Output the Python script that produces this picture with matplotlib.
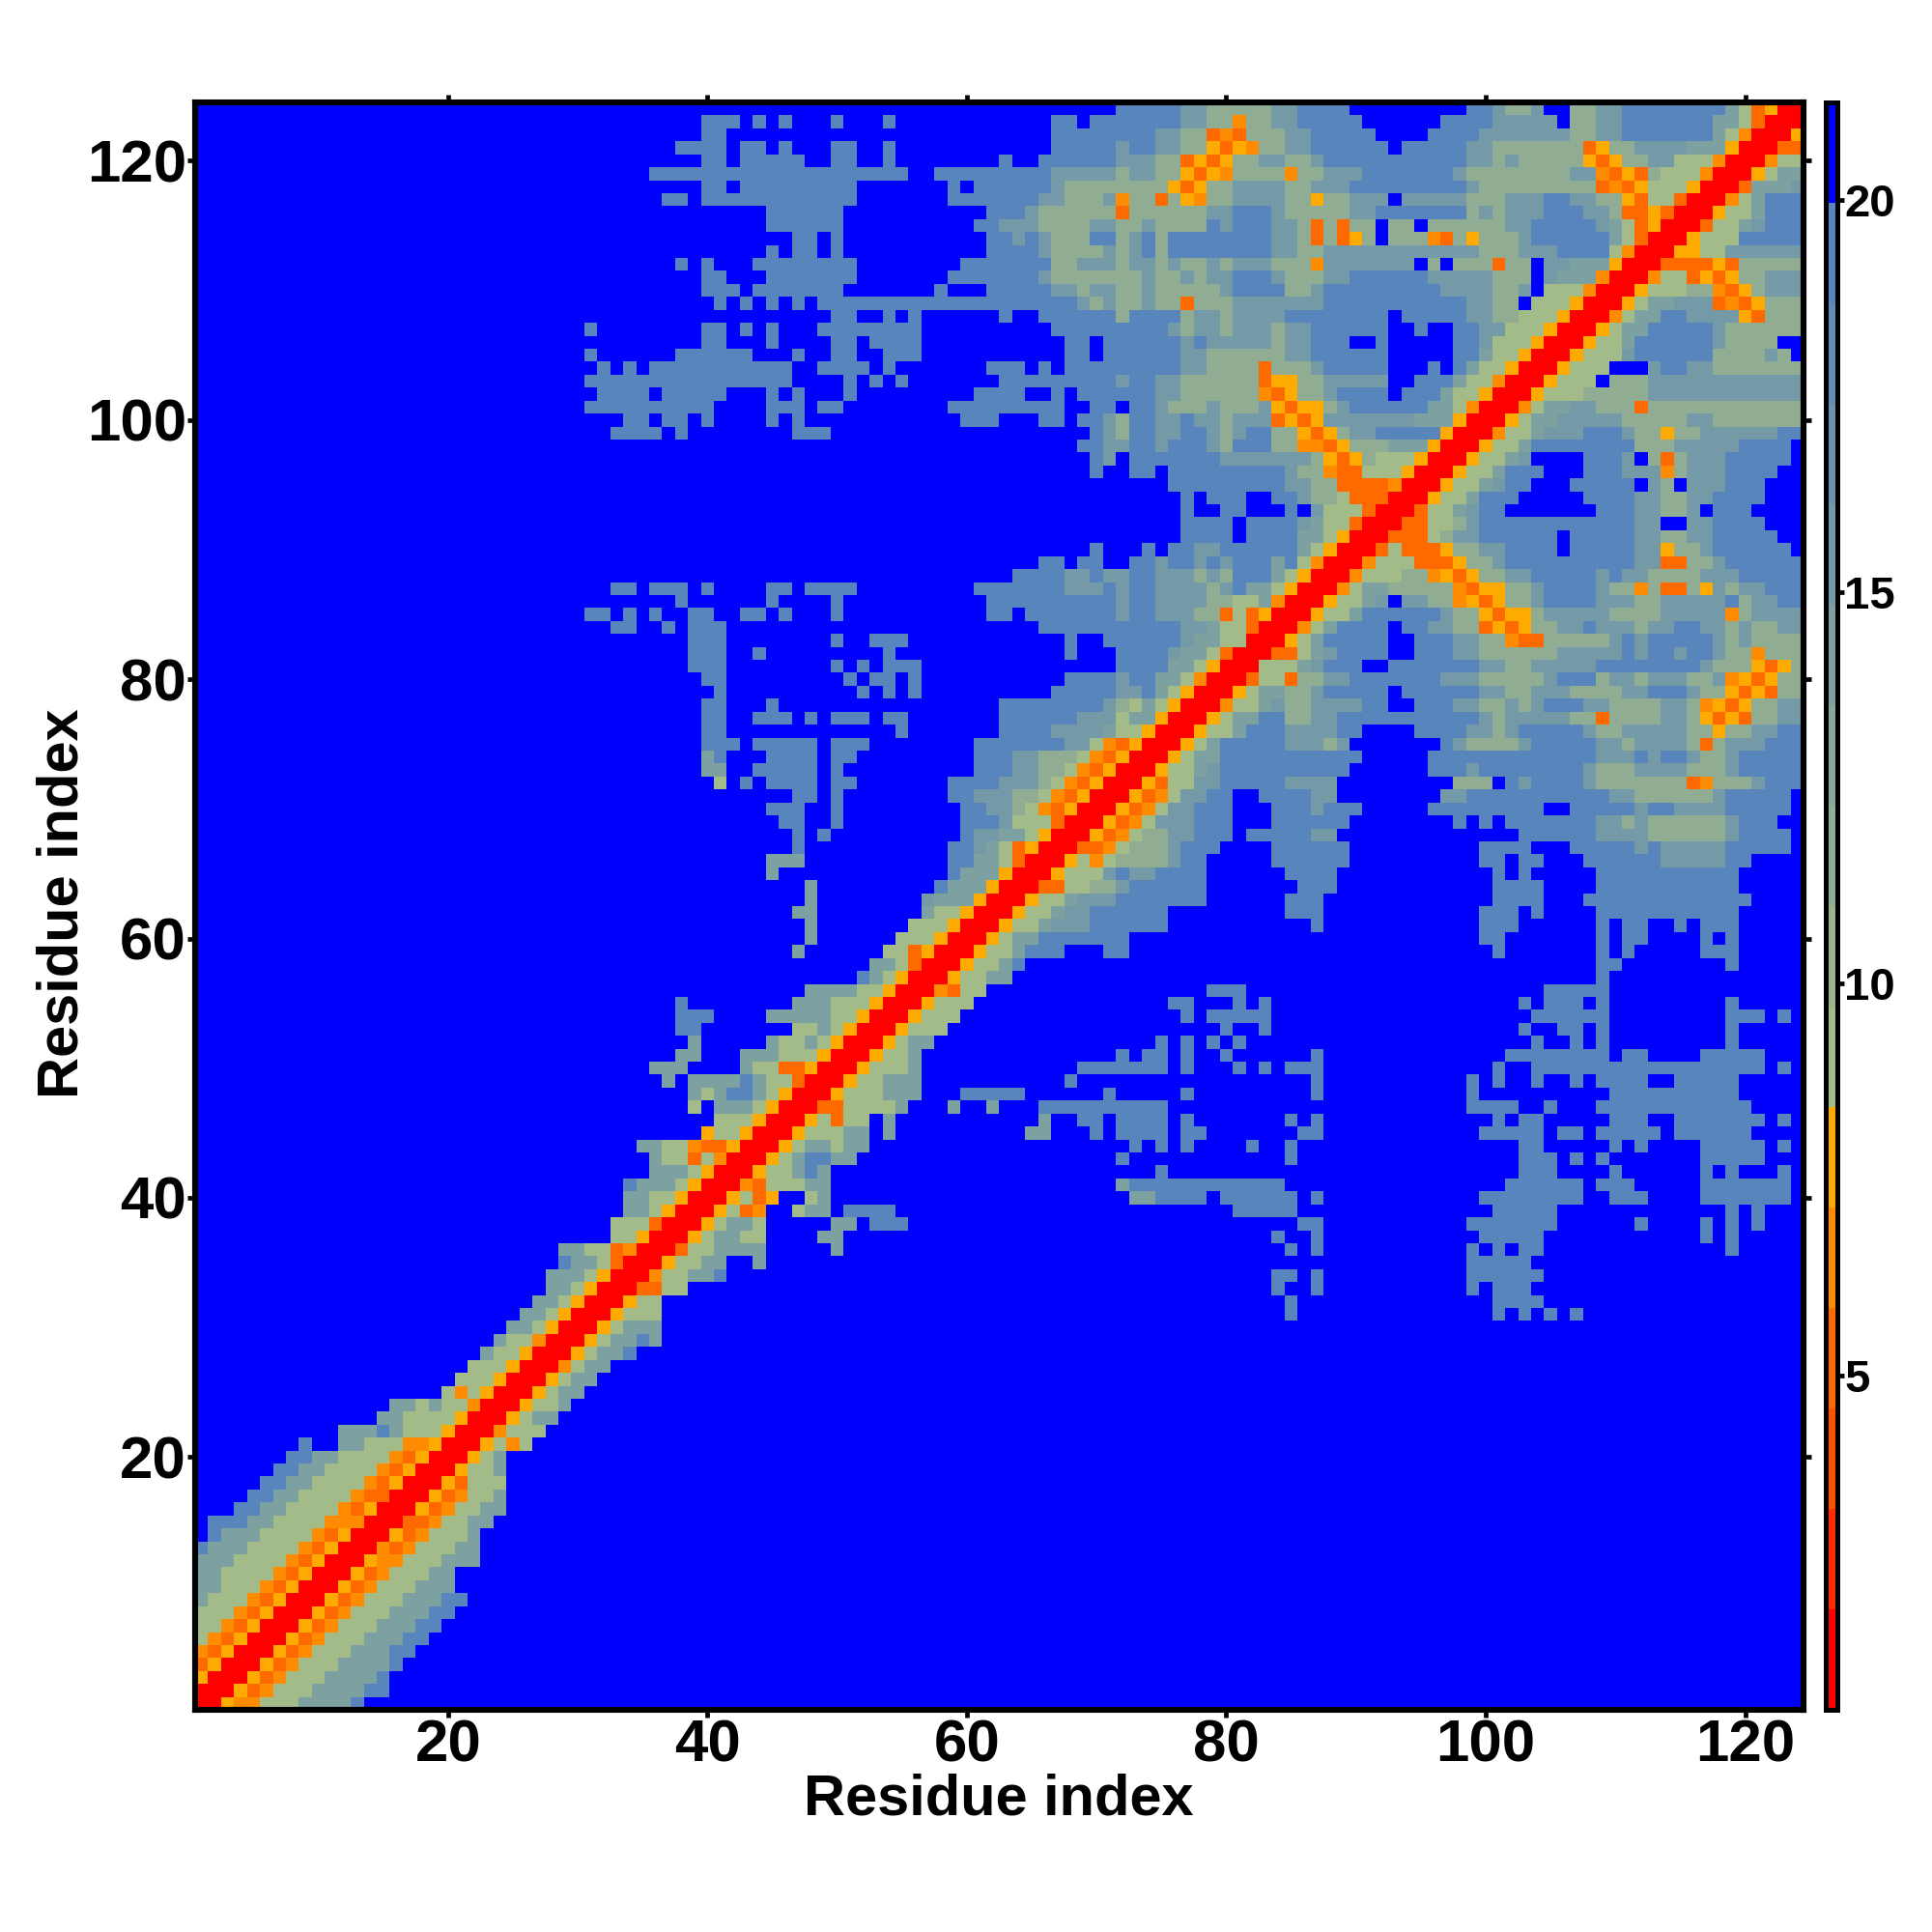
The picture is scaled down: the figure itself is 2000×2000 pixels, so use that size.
import numpy as np
import matplotlib
matplotlib.use("Agg")
import matplotlib.pyplot as plt
from matplotlib.colors import ListedColormap, BoundaryNorm, to_rgb
from matplotlib.cm import ScalarMappable

plt.rcParams['font.family'] = ['Liberation Sans', 'DejaVu Sans']
plt.rcParams['font.weight'] = 'bold'

# distance read for each colour code (r=red ... b=blue)
code_values = {'r': 1.4, 'o': 5.2, 'n': 6.5, 'a': 7.8, 'g': 9.1, 'm': 14.2, 's': 19.4, 'b': 20.7}
# the same codes read paler in the upper right block, away from the diagonal
upper_block_g = 11.6
upper_block_m = 15.2
n_residues = 124

# one entry per row, top row (124) first; "72s" = from column 72 on the value is s, blue before the first entry
rows_top_down = [
"72s 77m 79g 84m 86s 90b 99s 101m 102g 104m 105b 107g 109m 111s 119m 120g 121o 122a 123r",
"40s 43b 44s 45b 46s 47b 50s 51b 54s 55b 67s 69b 70s 77m 79g 81n 82g 84m 86s 91b 97s 101m 106b 107g 109m 111s 118m 120g 121o 122r",
"40s 42b 67s 75m 77g 79o 80n 81o 82g 85m 87s 92b 96s 100m 107g 109m 111s 118m 119g 120n 121r 124a",
"38s 42b 43s 45b 46s 47b 50s 52b 54s 55b 67s 72m 73s 75m 77g 79a 80o 81a 82n 83g 85m 87s 93b 94s 99m 101g 108o 109a 110g 112m 119a 120r 123o",
"40s 42b 43s 48b 50s 52b 54s 55b 63s 64b 66s 72m 75g 77o 78a 79o 80a 81g 83m 85g 87m 88s 99m 101g 102m 103g 108a 109o 110a 111g 113m 115g 118n 119r 122n 123g",
"36s 56b 58s 67m 72g 73m 75g 77a 78o 79a 80n 81g 85n 86g 88m 91s 98m 99g 107m 109n 110o 111a 112o 113g 117n 118r 121a 122g 123m",
"40s 42b 43s 52b 59s 60b 61s 67m 68g 72g 76a 77o 78a 79g 81m 85g 87m 90s 99m 100g 109o 110n 111o 112a 113g 116a 117r 120o 121m",
"37s 39b 40s 52b 59s 66m 68g 71m 72n 73g 75o 76g 77a 78n 79g 81m 85g 87a 88g 90m 93b 94m 99g 102m 105s 107m 109g 111a 112o 113g 115o 116r 119n 120g 121m 122s",
"45s 51b 62s 65m 66g 72o 73g 79m 81s 84m 85g 90m 92s 99g 100m 101g 102m 105s 108m 110g 111o 113a 114o 115r 118a 119g 121m 122s",
"45s 51b 61s 63m 66g 70m 72g 74m 75g 79s 80m 81s 84m 86g 87o 88g 89o 90g 92b 93g 95b 96g 102m 104s 109m 111g 112o 113a 114r 117o 118g 120m 122s",
"47s 49b 50s 51b 62s 64m 65s 66m 67g 70s 72g 73m 74s 75g 76s 84m 86g 87o 88g 89o 90a 91g 92b 93g 96n 97o 98g 99a 100g 103m 104s 110m 111g 112o 113r 116a 117g 120s",
"45s 46b 47s 49b 50s 51b 62s 66m 67g 71m 72g 73m 74s 75g 76s 84m 86g 88m 93m 100g 103m 106s 110g 111n 112r 115a 117g 119m",
"38s 39b 40s 41b 44s 52b 60s 67g 69m 72g 73m 75g 76m 77g 79m 80g 81m 84g 87n 88m 95b 96g 97b 98g 101o 102g 104b 105m 110a 111r 114o 118a 119o 120g",
"40s 42b 45s 52b 59s 66m 67g 72g 74m 75g 77m 78g 79m 81s 84m 85g 88m 90s 96m 101g 104b 105m 109n 110r 113n 114g 116o 117a 118o 119a 120g 122m",
"40s 43b 44s 51b 58s 59b 62s 67m 69g 70m 72g 74m 75g 80m 81s 85g 87m 88s 97m 101g 103m 104b 105g 108n 109r 112a 113g 118n 119o 120a 121g 122m",
"41s 42b 43s 44b 45s 46b 47s 48b 49s 69m 70g 71m 72g 74m 75g 77o 78g 81m 88s 99m 101g 103b 104g 107a 108r 111a 112g 113m 118o 119n 120o 121a 122g",
"50s 52b 54s 55b 56s 57b 63s 64b 66s 72g 73s 77g 78m 80g 81m 85s 93b 94s 99m 101g 106a 107r 110n 111g 112m 114s 116m 120a 121o 122g",
"31s 32b 40s 42b 43s 44b 45s 46b 49s 57b 67s 76m 77g 78m 80g 81m 84g 85m 87s 93b 95s 96b 98s 100m 102g 105a 106r 109a 110g 111m 113s 118m 119g",
"40s 42b 45s 46b 50s 52b 53s 57b 68s 70b 71s 77m 78s 79m 84g 85m 87s 90b 92s 93b 98s 100m 101g 104a 105r 108a 109g 111m 112s 118m 119g 123b",
"31s 32b 38s 44b 47s 48b 50s 52b 54s 57b 68s 70b 71s 77m 79g 85m 87s 93b 98s 100m 101g 103a 104r 107a 108g 111m 112s 118g 122m 123g 124b",
"32s 33b 34s 35b 36s 47b 49s 53b 54s 55b 62s 65b 66s 67b 68s 77m 79g 83o 84g 87m 88s 93b 96s 97b 98s 99m 100g 102a 103r 106a 107g 110b 113m 114s 116m 118g",
"31s 47b 51s 52b 53s 54b 55s 56b 63s 72m 73s 75m 77g 83o 84a 86g 88m 93b 95s 98m 99g 101n 102r 105a 106g 109b 110g 113m",
"32s 36b 37s 42b 45s 46b 47s 48b 51s 52b 61s 65b 67s 68b 69s 75m 77g 83n 84o 85a 86g 88m 89s 93b 94s 97m 98g 100a 101r 104a 105g 113m",
"31s 41b 45s 48b 49s 51b 59s 68b 70s 72b 73s 75m 76g 79m 80g 83m 84a 85o 86a 88g 89m 90s 96m 98g 99n 100r 103n 104g 105m 109g 112o 113g",
"34s 36b 37s 39b 40s 41b 45s 46b 47s 48b 60s 63b 66s 68b 69s 71m 72g 73s 75m 77s 78m 80g 81m 84o 85a 86o 87a 88m 94m 98a 99r 102a 103g 104m 111g 116m 118g",
"33s 37b 38s 39b 47s 50b 70s 71m 72g 73s 75m 77s 79m 80g 81m 82s 84g 86a 87o 88a 89g 90m 92s 97a 98r 101n 102g 104m 108s 111m 112g 114a 115g 117m 122m 123s",
"69s 71m 73s 75m 76s 79m 80g 81s 84g 86n 88o 89a 90g 93m 96a 97r 100a 101g 103m 104s 112g 115m 120s 124b",
"70s 71m 72b 73s 80m 84m 87g 88a 89o 90a 91g 95a 96r 99a 100g 102m 104b 108s 111m 112b 113g 114o 115g 116m 119s 124b",
"70s 71b 73s 75b 76s 85m 86g 88n 89o 91g 94a 95r 98a 99g 101m 102s 105b 108s 111m 114n 115g 116m 119s 123b",
"76s 85m 87g 89o 93n 94r 97a 98g 100m 102s 104b 107s 112b 113m 114g 115b 116m 119s 122b",
"77s 78b 79s 82b 84s 86m 87g 90o 93r 96a 97g 99m 100s 103b 108s 112m 114g 116m 118s 122b",
"77s 78b 80s 82b 85s 86b 87m 88g 91o 92r 95o 96g 98m 100s 102b 109s 112m 114g 116m 117b 118s 121b",
"77s 81b 82s 86m 88g 90o 91r 94o 96g 99m 100s 112m 114b 116m 118s 122b",
"77s 81b 82s 86m 88g 89a 90r 93o 96g 98m 100s 106b 107s 112m 114g 116m 118s 123b",
"70s 71b 74s 75b 76s 78m 80s 86m 87g 88a 89r 92o 93g 94o 97a 98g 100m 102s 106b 107s 112m 114a 115g 117m 118s 124b",
"66s 68b 69s 71b 73s 75m 76s 78m 79s 80m 81s 84m 85s 86g 87n 88r 91n 92g 95o 98a 99g 101m 102s 112m 114o 116g 118m 119s",
"64s 68m 70s 71m 73s 75m 78g 79m 80g 81s 84m 85g 86a 87r 90n 91g 96n 97a 98o 99a 100g 102m 104s 109m 110s 111m 113g 115g 117m 120s",
"33s 35b 36s 39b 40s 41b 45s 47b 48s 52b 61s 68m 71s 72m 73s 75m 79g 80m 81s 82m 84g 85a 86r 89n 90g 91m 93g 98n 99o 100a 102g 104m 105s 109m 110g 112n 113g 114o 116g 117a 118m 119g 120m 122s",
"38s 39b 45s 46b 50s 51b 62s 72m 73s 75m 79g 83m 84n 85r 88a 89g 91m 93b 94m 96g 98n 99a 100o 101a 102g 104m 105s 109m 112g 114m 119s 120g 121m 123s",
"31s 33b 34s 35b 36s 37b 39s 41b 43s 45b 46s 47b 50s 51b 62s 64b 65s 72m 73s 75m 78g 80o 81g 82o 83a 84r 87a 88g 90m 91s 97m 98g 100a 101o 102a 104g 105m 110g 114m 119n 120g 121m",
"33s 35b 37s 38b 39s 42b 66s 77m 80g 82o 83r 86n 87g 88m 89s 93b 94s 96m 98g 100o 101a 102o 103a 104g 106m 108s 109m 112g 113m 115s 117m 119g 120m 121g 123m",
"39s 42b 50s 51b 53s 56b 68s 69b 71s 77m 80g 82r 85a 86g 87m 88s 93b 95s 98m 100g 102n 103o 105g 110m 111s 112m 113s 118m 119g 120m 121g",
"39s 42b 44s 45b 54s 55b 68s 69b 72s 76m 79g 80o 81r 84o 86g 87m 89s 93b 95s 98m 100g 106m 111s 112m 113s 115m 116s 118m 119g 121n 122g",
"39s 42b 50s 51b 52s 53b 54s 57b 72s 76m 78g 79a 80r 83g 86m 88s 91b 93s 100m 102g 104m 109s 117m 118g 121a 122o 123a 124g",
"40s 42b 51s 52b 53s 55b 56s 57b 68s 72m 73s 75m 77g 78n 79r 82o 83g 85o 86g 88m 90s 97m 100g 105m 106s 109g 110m 112g 113m 116g 118m 119n 120a 121o 122a 123g",
"41s 42b 52s 53b 54s 55b 56s 57b 67s 72m 74s 75m 76g 77a 78r 81a 82g 83m 85g 87m 88s 93b 94s 100m 102g 104m 107g 110g 111m 113s 116m 117g 119a 120o 121a 122o 123g",
"40s 42b 45s 46b 63s 71m 72g 74m 75g 76a 77r 80n 81g 83m 85g 87m 91s 93b 95s 98m 100g 102m 103g 104m 105s 108m 110g 114m 116g 117n 118a 119o 120a 121g 123m",
"40s 42b 44s 47b 48s 49b 50s 53b 54s 56b 63s 69m 72g 73m 75a 76r 79a 80g 81m 83s 85g 87m 89s 100m 101g 102m 107g 109o 110g 113g 114m 116g 117a 118o 119a 120o 121g 123m",
"40s 42b 55s 56b 63s 67m 72g 74a 75r 78a 79g 81m 82s 85m 88m 89s 91b 95s 99m 101g 102m 103s 108m 109g 111m 116g 118a 119g 121m 123s",
"40s 43b 44s 49b 50s 53b 61s 68m 70g 71n 72o 73a 74r 77a 78g 79m 80s 85m 88g 89m 90b 97s 98m 99g 103m 104s 109m 111g 112m 116g 117o 118g 119m 122s",
"40m 41s 42b 45s 49b 50s 52b 61s 64m 66g 70n 71o 72a 73r 76a 77g 78m 80s 91b 96s 109m 112s 113m 114s 116m 117g 119m 120s",
"40m 42b 44s 49b 50s 51b 61s 64m 66g 69n 70o 71a 72r 75a 76g 78m 80s 90b 96s 99m 100s 108m 109g 112m 116g 119m 120s",
"41g 42b 43s 44b 45s 49b 50s 52b 59s 63m 66g 68n 69o 70a 71r 74a 75o 76g 78m 80s 85m 89b 98g 101b 102s 103m 104s 108m 109g 116o 117n 118g 121m 122s",
"47s 49b 50s 51b 59s 61m 64g 67n 68o 69a 70r 73a 74o 75n 76g 77m 79s 81b 83s 87m 89b 97m 99s 110m 112g 116g 118m 119s 124b",
"45s 48b 50s 51b 60s 62m 64g 66n 67o 68a 69r 72a 73o 74n 75g 76m 78s 81b 84s 87m 88s 91b 96s 105b 107s 112m 113s 115m 118m 119s 124b",
"46s 48b 50s 51b 60s 63m 64g 67o 68r 71a 72o 73n 74g 75m 78s 81b 84s 90b 98s 99b 100s 101b 102s 109m 111g 112m 113g 119m 120s 123b",
"47s 48b 49s 50b 60s 61m 65g 66a 67r 70a 71o 72n 73g 76m 78s 81b 82s 87m 89b 103s 109m 112m 113g 119m 120s 124b",
"47s 48b 59s 61m 63g 64o 65a 66r 69o 71n 72g 76m 77s 80b 84s 90b 100s 104b 107s 112m 113s 114m 119s 124b",
"45m 48b 59s 61m 63g 64o 65r 68a 69g 70n 71g 76m 77s 79b 84s 90b 100s 102b 103s 105b 108s 114m 119s 121b",
"45m 46b 59s 60m 63a 64r 67a 68g 71m 72s 73m 75s 79b 85s 89b 101s 102b 103s 104b 109s 120b",
"48m 49b 58s 59m 62a 63r 66o 68g 72m 73s 79b 86s 89b 101s 105b 109s 120b",
"48m 49b 57m 61a 62r 65a 66g 68m 72s 79b 85s 88b 101s 105b 108s 121b",
"47m 49b 57m 58g 60a 61r 64a 65g 67m 70s 76b 85s 88b 100s 103b 104s 105b 109s 120b",
"48m 49b 56g 59a 60r 63a 64g 66m 70s 76b 87s 88b 100s 103b 109s 110b 111s 113b 115s 116b 117s 120b",
"48m 49b 55g 58a 59r 62a 63g 64m 66s 73b 100s 102b 109s 110b 111s 113b 117s 118b 119s 120b",
"47m 48b 54g 56o 57a 58r 61a 62g 64m 65s 68b 71s 73b 101s 102b 109s 110b 111s 112b 117s 120b",
"53m 55g 56o 57r 60a 61g 63m 64s 65b 109s 111b 119s 120b",
"52s 53m 54g 55a 56r 59a 60g 62m 64b 109s 110b",
"48m 52g 54a 55r 58n 59o 60g 62b 79s 82b 105s 110b",
"38s 39b 47m 50g 53a 54r 57a 58g 61b 76s 78b 81s 82b 83s 84b 103s 104b 105s 108b 109s 110b 119s 120b",
"38s 41b 45m 50g 52a 53r 56a 57g 60b 77s 78b 79s 84b 104s 110b 119s 122b 123s 124b",
"38s 40b 47g 49m 50g 51a 52r 55a 56g 59b 80s 81b 83s 84b 103s 104b 106s 108b 109s 110b 119s 120b",
"39m 40b 45m 46g 48m 49g 50a 51r 54a 55g 56m 58b 75s 76b 77s 78b 79s 80b 81s 82b 104s 105b 107s 108b 109s 110b 119s 120b",
"38m 40b 43m 46g 49a 50r 53a 54g 56m 57b 72s 73b 74s 76b 77s 78b 80s 81b 87s 88b 102s 110b 111s 113b 117s 122b",
"36m 39b 43m 44g 46o 48a 49r 52a 53g 56m 57b 69s 76b 77s 78b 81s 82b 83s 84b 85s 88b 101s 102b 104s 122b 123s 124b",
"37m 38b 39m 43s 44m 45g 47o 48r 51a 52g 54m 57b 68s 69b 87s 88b 99s 100b 101s 102b 104s 105b 107s 108b 109s 113b 115s 120b",
"39m 40g 41m 42s 44m 45g 46a 47r 50a 51g 54m 57b 60s 65b 71s 72b 77s 78b 87s 88b 99s 100b 110s 120b",
"39g 40b 41m 43m 44g 45a 46r 49o 51g 55m 56b 59m 60b 62m 63b 66s 76b 99s 103b 105s 106b 109s 121b",
"41g 44a 45r 48a 49g 50o 51g 53b 54m 55b 66m 67b 69s 71b 72s 76b 77s 78b 85s 86b 87s 88b 101s 102b 103s 105b 110s 113b 115s 122b 123s 124b",
"40a 41g 43a 44r 47a 48g 51m 53b 54m 55b 65m 67b 70s 71b 72s 76b 77s 79b 86s 88b 100s 105b 106s 108b 109s 114b 115s 121b",
"35m 37g 39n 40o 42a 43r 46a 47g 48m 50g 51m 53b 73s 74b 75s 76b 77s 78b 82s 83b 85s 86b 103s 105b 110s 111b 112s 113b 117s 122b 123s 124b",
"36m 37g 39o 40g 41n 42r 45a 46g 47m 48s 50m 52b 72s 73b 85s 86b 103s 106b 107s 108b 109s 110b 117s 122b",
"36m 39g 40a 41r 44a 45g 47m 48s 49m 50b 75s 76b 103s 106b 110s 111b 117s 118b 119s 120b 123s 124b",
"34s 35m 38g 39a 40r 43n 44o 45g 48m 50b 72m 73s 85b 102s 108b 109s 112b 117s 124b",
"34m 36g 38a 39r 42a 43g 44o 45a 46b 48g 49m 50b 73m 75s 79b 80s 86b 87s 88b 100s 108b 110s 113b 117s 124b",
"34m 36g 37a 38r 41a 42g 43o 44n 45b 47g 48m 50b 51s 55b 81s 86b 101s 106b 119s 120b 121s 122b",
"33g 36o 37r 40a 41g 42m 44g 45b 50m 52b 53s 56b 86s 88b 99s 106b 112s 113b 117s 118b 119s 120b 121s 122b",
"33g 35a 36r 39a 40g 41m 43g 45b 49m 51b 84s 85b 87s 88b 100s 105b 117s 118b 119s 120b",
"29m 31g 33o 34n 35r 38o 39g 41m 45b 50m 51b 85s 86b 87s 88b 99s 100b 101s 102b 103s 105b 119s 120b",
"29s 30m 32g 33o 34r 37a 38g 40m 42b 44m 45b 99s 104b",
"28m 31g 32a 33r 36n 37g 39m 41s 42b 84s 86b 87s 88b 99s 105b",
"28m 30g 31a 32r 35o 37g 39b 84s 85b 87s 88b 99s 100b 101s 104b",
"27m 29g 30a 31r 34a 35g 37b 85s 86b 101s 105b",
"26m 28g 29a 30r 33a 34g 37b 85s 86b 101s 102b 103s 104b 105s 106b 107s 108b",
"25m 27g 28a 29r 32a 33g 34m 37b",
"24m 25g 27n 28r 31a 32g 33m 35s 36m 37b",
"23m 24g 26a 27r 30a 31g 32m 34s 35b",
"22g 25a 26r 29n 30g 31m 33b",
"21g 24a 25r 28a 29g 30m 32b",
"20g 21n 22g 23a 24r 27a 28g 29m 31b",
"16m 18g 19m 20g 22n 23r 26a 27g 29m 30b",
"15m 17g 21a 22r 25a 26g 27m 29b",
"12m 15s 16m 17g 20a 21r 24n 25g 28b",
"9s 10b 12m 14g 17n 19a 20r 23a 24g 25n 26g 27b",
"8s 10m 12g 16n 17o 18a 19r 22a 23g 24m 25b",
"7s 9m 11g 15n 16o 17a 18r 21a 22g 24m 25b",
"6s 8m 10g 14n 15o 16a 17r 20a 21o 22g 25b",
"5s 7m 9g 13n 14o 16r 19a 20o 21n 22g 24m 25b",
"4s 6m 8g 12n 13o 14a 15r 18a 19o 20n 21g 23m 25b",
"2s 5m 7g 11n 14r 17o 19n 20g 22m 24b",
"2s 3m 6g 10n 11o 12a 13r 16a 17o 18n 19g 22m 23b",
"1s 2m 5g 9n 10o 11a 12r 15n 16o 17n 18g 21m 23b",
"1m 4g 8n 9o 10a 11r 14a 15n 17g 20m 23b",
"1m 3g 7n 8o 9a 10r 13a 14o 15n 16g 19m 21b",
"1m 3g 6n 7o 8a 9r 12a 13o 14n 15g 18m 21b",
"1m 2g 5n 6o 7a 8r 11a 12o 13n 14g 17m 20s 22b",
"1g 4n 5o 6a 7r 10a 11o 12n 13g 16m 19s 21b",
"1g 3n 4o 5a 6r 9a 10o 11n 12g 15m 18s 20b",
"1g 2n 3o 4a 5r 8a 9o 10n 11g 14m 17s 19b",
"1n 2o 3a 4r 7a 8o 9n 10g 13m 16s 18b",
"1o 2a 3r 6a 7o 8n 9g 12m 16s 17b",
"1a 2r 5a 6o 7n 8g 11m 15s 16b",
"1r 4a 5o 6n 7g 10m 14s 16b",
"1r 3a 4n 6g 9m 13s 14b",
]

x_ticks = [20, 40, 60, 80, 100, 120]
y_ticks = [20, 40, 60, 80, 100, 120]
cbar_ticks = [5, 10, 15, 20]
value_min = 0.73
value_max = 21.25
warm_colors = ['#ff0000', '#ff2a00', '#ff5000', '#ff6a00', '#ff8c00', '#ffaa00']
sage = '#a3bb88'
steel = '#5885bb'

matrix = np.full((n_residues, n_residues), code_values['b'])
for k, line in enumerate(rows_top_down):
    row = n_residues - 1 - k
    for tok in line.split():
        col = int(tok[:-1]) - 1
        matrix[row, col:] = code_values[tok[-1]]

# upper right block: cells away from the diagonal were paler than the sage near it
for row in range(60, n_residues):
    for col in range(55, n_residues):
        if abs(row - col) > 5:
            if matrix[row, col] == code_values['g']:
                matrix[row, col] = upper_block_g
            elif matrix[row, col] == code_values['m']:
                matrix[row, col] = upper_block_m

# 16 colour steps, warm part then sage fading to steel, blue on top
c0 = np.array(to_rgb(sage))
c1 = np.array(to_rgb(steel))
cool_colors = [tuple(c0 + (c1 - c0) * t) for t in np.linspace(0, 1, 9)]
cmap = ListedColormap(warm_colors + cool_colors + ['#0000ff'])
levels = np.linspace(value_min, value_max, 17)
norm = BoundaryNorm(levels, cmap.N)

fig = plt.figure(figsize=(20, 20), dpi=100)
ax = fig.add_axes([202 / 2000, 1 - 1770 / 2000, 1665 / 2000, 1664 / 2000])
ax.imshow(matrix, origin='lower', extent=(0.5, n_residues + 0.5, 0.5, n_residues + 0.5),
          cmap=cmap, norm=norm, interpolation='nearest', aspect='auto')
ax.set_xticks(x_ticks)
ax.set_yticks(y_ticks)
ax.tick_params(axis='x', top=True, length=6, width=3.4, labelsize=44.5, pad=1)
ax.tick_params(axis='y', right=True, length=6, width=3.4, labelsize=44.5, pad=0.5)
for s in ax.spines.values():
    s.set_linewidth(4.4)
for t in ax.xaxis.get_ticklines() + ax.yaxis.get_ticklines():
    t.set_solid_capstyle('round')

cax = fig.add_axes([1889.5 / 2000, 1 - 1770 / 2000, 12 / 2000, 1664 / 2000])
cb = fig.colorbar(ScalarMappable(norm=norm, cmap=cmap), cax=cax, ticks=cbar_ticks, spacing='proportional', drawedges=False)
cb.outline.set_linewidth(3.6)
cb.ax.tick_params(length=5, width=3.4, labelsize=34, pad=0.5, right=True, which='major')
cb.ax.minorticks_off()

fig.text(1034 / 2000, 1 - 1863 / 2000, 'Residue index', ha='center', va='center', fontsize=42.8, fontweight='bold')
fig.text(65 / 2000, 1 - 935 / 2000, 'Residue index', ha='center', va='center', rotation=90, fontsize=42.8, fontweight='bold')

fig.savefig('out.png', dpi=100, facecolor='white')
